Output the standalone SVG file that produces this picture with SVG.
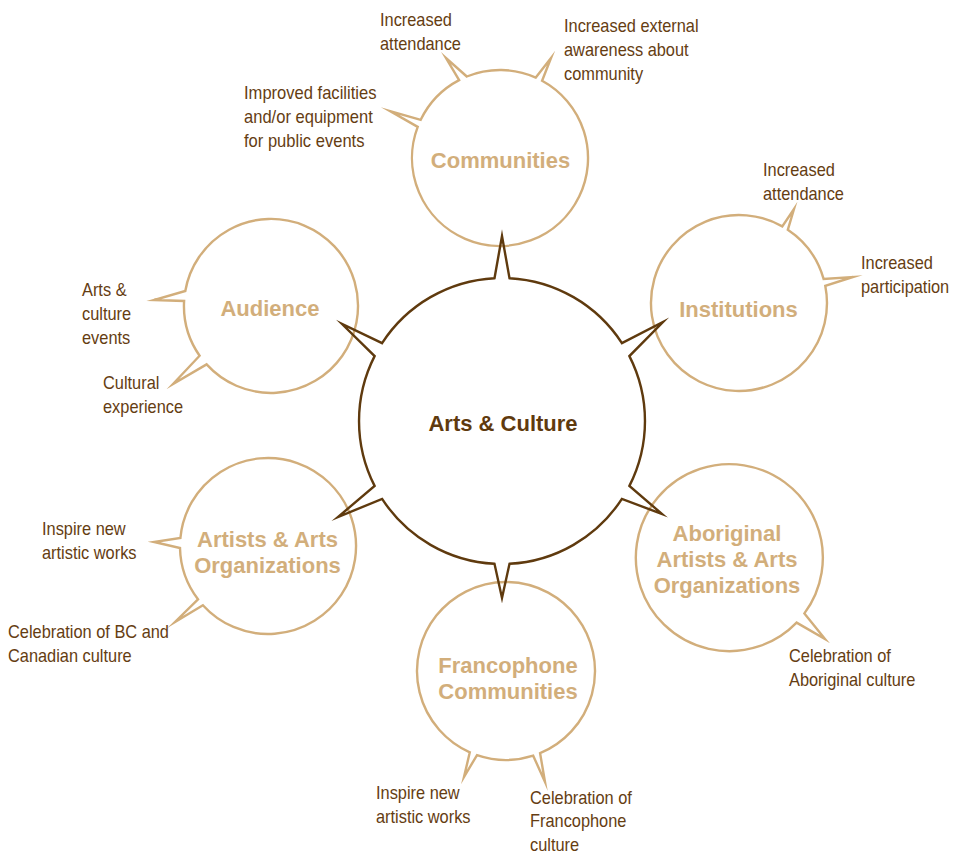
<svg xmlns="http://www.w3.org/2000/svg" width="954" height="855" viewBox="0 0 954 855">
<style>
.bubble{fill:none;stroke:#d2ae7b;stroke-width:2.4;stroke-linejoin:miter;stroke-miterlimit:20}
.hub{fill:none;stroke:#5f3a0e;stroke-width:2.4;stroke-linejoin:miter;stroke-miterlimit:20}
.lbl{font-family:"Liberation Sans",Arial,sans-serif;font-weight:bold;font-size:22px;fill:#d2ae7b;text-anchor:middle}
.hubl{font-family:"Liberation Sans",Arial,sans-serif;font-weight:bold;font-size:22px;fill:#5f3a0e;text-anchor:middle}
.note{font-family:"Liberation Sans",Arial,sans-serif;font-size:18px;fill:#653d12}
</style>
<rect width="954" height="855" fill="#ffffff"/>

<g id="communities">
<path class="bubble" d="M542.1,80.7 A88,88 0 1 1 417.7,126.9 L390,111 L420.7,119.8 A88,88 0 0 1 459.1,80.1 L446,58 L466.8,76.5 A88,88 0 0 1 535.8,77.6 L551,58 Z"/>
<text class="lbl" x="500.5" y="168">Communities</text>
<text class="note" transform="translate(380,26) scale(0.91,1)"><tspan x="0" y="0">Increased</tspan><tspan x="0" y="24">attendance</tspan></text>
<text class="note" transform="translate(564,32) scale(0.91,1)"><tspan x="0" y="0">Increased external</tspan><tspan x="0" y="24">awareness about</tspan><tspan x="0" y="48">community</tspan></text>
<text class="note" transform="translate(244,99) scale(0.92,1)"><tspan x="0" y="0">Improved facilities</tspan><tspan x="0" y="24">and/or equipment</tspan><tspan x="0" y="48">for public events</tspan></text>
</g>

<g id="institutions">
<path class="bubble" d="M825.3,285.9 A88,88 0 1 1 782.3,226.4 L794,209 L787.8,229.8 A88,88 0 0 1 823.6,278.9 L853,277 Z"/>
<text class="lbl" x="738.5" y="317">Institutions</text>
<text class="note" transform="translate(763,176) scale(0.91,1)"><tspan x="0" y="0">Increased</tspan><tspan x="0" y="24">attendance</tspan></text>
<text class="note" transform="translate(861,269) scale(0.91,1)"><tspan x="0" y="0">Increased</tspan><tspan x="0" y="24">participation</tspan></text>
</g>

<g id="audience">
<path class="bubble" d="M206.6,364.4 L173,384 L199.6,355.7 A87,87 0 0 1 184.1,301 L154,300 L185.3,291 A87,87 0 1 1 206.6,364.4 Z"/>
<text class="lbl" x="270" y="316">Audience</text>
<text class="note" transform="translate(82,296) scale(0.91,1)"><tspan x="0" y="0">Arts &amp;</tspan><tspan x="0" y="24">culture</tspan><tspan x="0" y="48">events</tspan></text>
<text class="note" transform="translate(103,389) scale(0.91,1)"><tspan x="0" y="0">Cultural</tspan><tspan x="0" y="24">experience</tspan></text>
</g>

<g id="artists">
<path class="bubble" d="M202.9,605.2 L175,622 L198,599.3 A88,88 0 0 1 180,548 L154,542 L180.4,538 A88,88 0 1 1 202.9,605.2 Z"/>
<text class="lbl"><tspan x="267.5" y="547">Artists &amp; Arts</tspan><tspan x="267.5" y="573">Organizations</tspan></text>
<text class="note" transform="translate(42,535) scale(0.91,1)"><tspan x="0" y="0">Inspire new</tspan><tspan x="0" y="24">artistic works</tspan></text>
<text class="note" transform="translate(8,638) scale(0.91,1)"><tspan x="0" y="0">Celebration of BC and</tspan><tspan x="0" y="24">Canadian culture</tspan></text>
</g>

<g id="aboriginal">
<path class="bubble" d="M796.6,622.6 A93.5,93.5 0 1 1 804.4,613.4 L825,639 Z"/>
<text class="lbl"><tspan x="727" y="541">Aboriginal</tspan><tspan x="727" y="567">Artists &amp; Arts</tspan><tspan x="727" y="593">Organizations</tspan></text>
<text class="note" transform="translate(789,662) scale(0.91,1)"><tspan x="0" y="0">Celebration of</tspan><tspan x="0" y="24">Aboriginal culture</tspan></text>
</g>

<g id="francophone">
<path class="bubble" d="M540.1,753.2 L545,782 L533.2,755.7 A89,89 0 0 1 477,755.1 L464,777 L469.8,752.3 A89,89 0 1 1 540.1,753.2 Z"/>
<text class="lbl"><tspan x="508" y="673">Francophone</tspan><tspan x="508" y="699">Communities</tspan></text>
<text class="note" transform="translate(376,799) scale(0.91,1)"><tspan x="0" y="0">Inspire new</tspan><tspan x="0" y="24">artistic works</tspan></text>
<text class="note" transform="translate(530,804) scale(0.91,1)"><tspan x="0" y="0">Celebration of</tspan><tspan x="0" y="23.5">Francophone</tspan><tspan x="0" y="47">culture</tspan></text>
</g>

<g id="arts-culture">
<path class="hub" d="M494.5,278.2 L502,236 L509.5,278.2 A143,143 0 0 1 621.9,343.1 L663,322 L629.4,356.1 A143,143 0 0 1 629.4,485.9 L662,514 L621.9,498.9 A143,143 0 0 1 509.5,563.8 L502,598 L494.5,563.8 A143,143 0 0 1 382.1,498.9 L338,517 L374.6,485.9 A143,143 0 0 1 374.6,356.1 L342,324 L382.1,343.1 A143,143 0 0 1 494.5,278.2 Z"/>
<text class="hubl" x="503" y="431">Arts &amp; Culture</text>
</g>
</svg>
